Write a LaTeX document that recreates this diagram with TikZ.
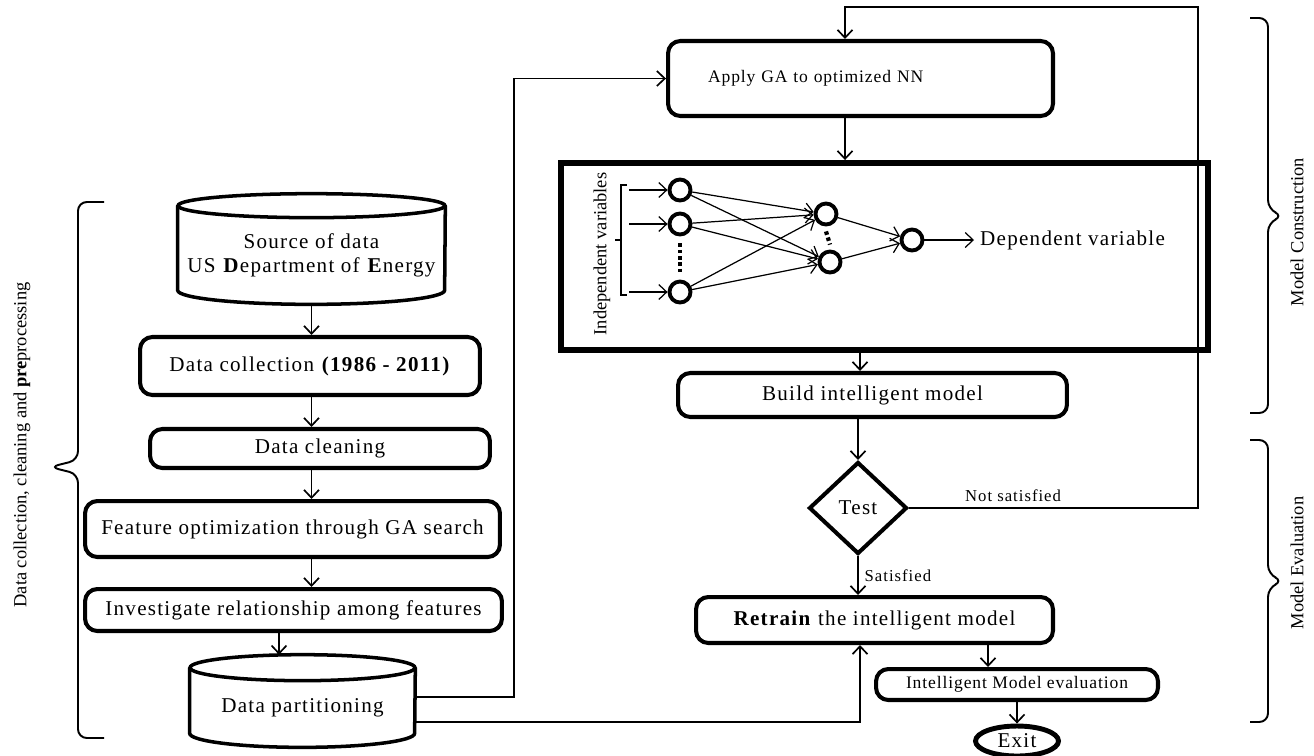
\documentclass[tikz,border=0pt]{standalone}
\usepackage{fontspec}
\setmainfont{Liberation Serif}[LetterSpace=6]
\newfontfamily\lblfont{Liberation Serif}
\usetikzlibrary{shapes.geometric,arrows.meta}

\begin{document}
\begin{tikzpicture}[x=0.02cm, y=-0.02cm, >={Straight Barb[length=4.5pt,width=8.5pt]},
  box/.style={draw, line width=2.3pt, rounded corners=7pt, font=\fontsize{12}{14}\selectfont},
  db/.style={line width=2pt},
  neuron/.style={draw, circle, line width=2.2pt, minimum size=0.42cm, inner sep=0pt},
  link/.style={->, line width=0.95pt},
  nnlink/.style={->, line width=0.7pt},
  brace/.style={line width=1.1pt, rounded corners=5pt},
  side/.style={rotate=90, font=\lblfont\fontsize{10.5}{12}\selectfont}]
\useasboundingbox (0,0) rectangle (1314,755);

\node[align=center, minimum width=5.34cm, minimum height=1.96cm, font=\fontsize{12}{13.6}\selectfont] (src) at (311.5,255)
  {Source of data\\US \textbf{D}epartment of \textbf{E}nergy};
\draw[db] (src.north west) -- ([yshift=0.28cm]src.south west) arc[start angle=180, end angle=360, x radius=2.67cm, y radius=0.28cm] -- (src.north east);
\draw[db] (src.north) ellipse [x radius=2.67cm, y radius=0.24cm];
\node[box, minimum width=6.8cm, minimum height=1.16cm] (coll) at (310,366) {Data collection \textbf{(1986 - 2011)}};
\node[box, minimum width=6.8cm, minimum height=0.78cm] (clean) at (320,448.5) {Data cleaning};
\node[box, minimum width=8.3cm, minimum height=1.12cm] (feat) at (292.5,529) {Feature optimization through GA search};
\node[box, minimum width=8.34cm, minimum height=0.84cm] (inv) at (293.5,610) {Investigate relationship among features};
\node[minimum width=4.5cm, minimum height=1.58cm, font=\fontsize{12}{14}\selectfont] (part) at (302.5,707.5) {Data partitioning};
\draw[db] (part.north west) -- ([yshift=0.28cm]part.south west) arc[start angle=180, end angle=360, x radius=2.25cm, y radius=0.28cm] -- (part.north east);
\draw[db] (part.north) ellipse [x radius=2.25cm, y radius=0.26cm];

\foreach \a/\b in {src/coll, coll/clean, clean/feat, feat/inv}
  \draw[link] (\a.south -| src.south) -- (\b.north -| src.south);
\draw[link] ([xshift=-0.47cm]part.north |- inv.south) -- ([xshift=-0.47cm, yshift=0.26cm]part.north);

\node[box, minimum width=7.7cm, minimum height=1.5cm, inner xsep=0.8cm, text width=6.1cm, align=left, font=\fontsize{10}{12}\selectfont\addfontfeature{LetterSpace=5}] (ga) at (860.5,78.5) {Apply GA to optimized NN};
\node[draw, line width=3.4pt, minimum width=12.94cm, minimum height=3.74cm] (nnbox) at (884.5,256.5) {};
\node[box, minimum width=7.78cm, minimum height=0.88cm] (build) at (872.5,395) {Build intelligent model};
\node[draw, diamond, line width=2.3pt, minimum width=1.96cm, minimum height=1.84cm, inner sep=0pt, font=\fontsize{12}{14}\selectfont] (test) at (858,508) {Test};
\node[box, minimum width=7.14cm, minimum height=0.92cm] (retrain) at (874.5,620) {\textbf{Retrain} the intelligent model};
\node[box, minimum width=5.64cm, minimum height=0.62cm, font=\fontsize{10}{12}\selectfont\addfontfeature{LetterSpace=5}] (eval) at (1017,684.5) {Intelligent Model evaluation};
\node[draw, ellipse, line width=2.8pt, minimum width=1.66cm, minimum height=0.6cm, inner sep=0pt, font=\fontsize{12}{14}\selectfont] (exit) at (1017,741) {Exit};

\node[neuron] (in1) at (680,190) {};
\node[neuron] (in2) at (680,224) {};
\node[neuron] (in3) at (680,292) {};
\node[neuron] (hid1) at (826,214) {};
\node[neuron] (hid2) at (830,262) {};
\node[neuron] (out) at (912,240) {};
\node[anchor=west, font=\fontsize{12}{14}\selectfont] (dep) at (974,240) {Dependent variable};
\node[side] (indep) at (602,254) {Independent variables};
\draw[line width=2.4pt, dash pattern=on 2pt off 1.6pt] ([yshift=-0.14cm]in2.south) -- ([yshift=0.1cm]in3.north);
\draw[line width=2.4pt, dash pattern=on 2pt off 1.6pt] ([yshift=-0.1cm]hid1.south) -- ([yshift=0.1cm]hid2.north);
\draw[line width=0.7pt] (627,185) -| (621,295) -- (627,295);
\draw[line width=0.7pt] (621,240) -- (615,240);
\coordinate (brk) at (629,240);
\foreach \n in {in1,in2,in3} \draw[nnlink] (brk |- \n) -- (\n);
\foreach \i in {in1,in2,in3}
  \foreach \j in {hid1,hid2}
    \draw[nnlink] (\i) -- (\j);
\draw[nnlink] (hid1) -- (out);
\draw[nnlink] (hid2) -- (out);
\draw[nnlink] (out) -- (dep.west);

\draw[link] ([xshift=-0.31cm]ga.south) -- ([xshift=-0.31cm]ga.south |- nnbox.north);
\draw[link] ([xshift=-0.25cm]build.north |- nnbox.south) -- ([xshift=-0.25cm]build.north);
\draw[link] (build.south -| test.north) -- (test.north);
\draw[link] (test.south) -- node[right, font=\fontsize{9.5}{11}\selectfont] {Satisfied} (test.south |- retrain.north);
\draw[link] ([xshift=-0.58cm]eval.north |- retrain.south) -- ([xshift=-0.58cm]eval.north);
\draw[link] (eval.south) -- (exit.north);
\coordinate (loop) at (1198,7);
\draw[link] (test.east) -| node[pos=0.18, above, font=\fontsize{9.5}{11}\selectfont] {Not satisfied} (loop) -| ([xshift=-0.31cm]ga.north);
\draw[link] ([yshift=0.21cm]part.east) -| ([xshift=-3.04cm]ga.west) -- (ga.west);
\draw[link] ([yshift=-0.29cm]part.east) -| ([xshift=-0.29cm]retrain.south);

\draw[brace] (104,202) -- (78,202) -- (78,460) -- (50,467) -- (78,474) -- (78,738) -- (104,738);
\node[side] (prep) at (22,445) {Data collection, cleaning and \textbf{pre}processing};
\draw[brace] (1250,18) -- (1268,18) -- (1268,209) -- (1283,216) -- (1268,223) -- (1268,413) -- (1250,413);
\node[side] (cons) at (1297,232) {Model Construction};
\draw[brace] (1250,440) -- (1268,440) -- (1268,574) -- (1283,581) -- (1268,588) -- (1268,722) -- (1250,722);
\node[side] (evalt) at (1297,563) {Model Evaluation};
\end{tikzpicture}
\end{document}
